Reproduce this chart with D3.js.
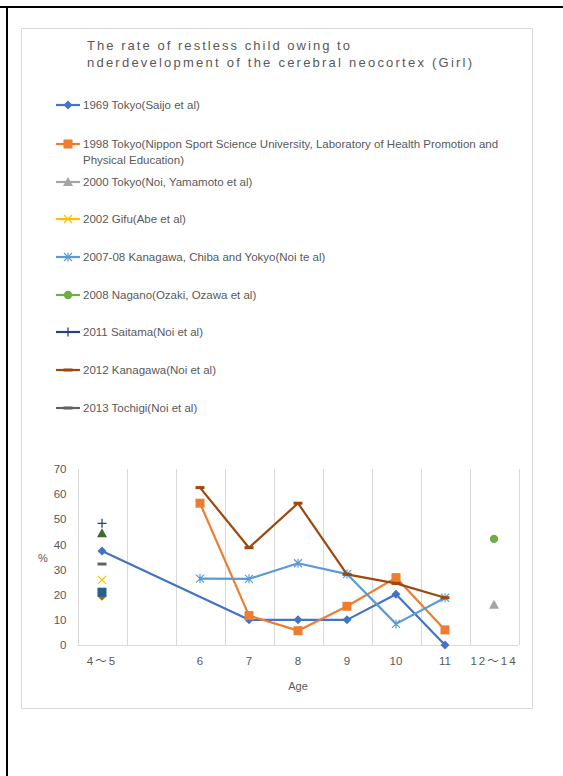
<!DOCTYPE html>
<html><head><meta charset="utf-8">
<script src="https://cdn.jsdelivr.net/npm/d3@7"></script>
<style>
html,body{margin:0;padding:0;background:#fff;}
svg{display:block;}
text{font-family:"Liberation Sans",Arial,"Noto Sans CJK JP",sans-serif;fill:#595959;}
</style></head>
<body>
<script>
// ---- data ----
const categories = ["4〜5", "", "6", "7", "8", "9", "10", "11", "12〜14"];
const yTicks = [0, 10, 20, 30, 40, 50, 60, 70];
const titleLines = ["The rate of restless child owing to", "nderdevelopment of the cerebral neocortex (Girl)"];
const seriesNames = [
  "1969 Tokyo(Saijo et al)",
  "1998 Tokyo(Nippon Sport Science University, Laboratory of Health Promotion and|Physical Education)",
  "2000 Tokyo(Noi, Yamamoto et al)",
  "2002 Gifu(Abe et al)",
  "2007-08 Kanagawa, Chiba and Yokyo(Noi te al)",
  "2008 Nagano(Ozaki, Ozawa et al)",
  "2011 Saitama(Noi et al)",
  "2012 Kanagawa(Noi et al)",
  "2013 Tochigi(Noi et al)",
  "", "", ""
];
const s1969 = [37.4, null, null, 10, 10, 10, 20.2, 0, null];
const s1998 = [null, null, 56.4, 11.7, 5.7, 15.4, 26.8, 6.0, null];
const s2000 = [null, null, null, null, null, null, null, null, 16.0];
const s2002 = [25.9, null, null, null, null, null, null, null, null];
const s2007 = [null, null, 26.4, 26.3, 32.5, 28.2, 8.4, 18.8, null];
const s2008 = [null, null, null, null, null, null, null, null, 42.2];
const s2011 = [48.4, null, null, null, null, null, null, null, null];
const s2012 = [null, null, 62.6, 38.7, 56.4, 28.1, 24.5, 18.8, null];
const s2013 = [32.2, null, null, null, null, null, null, null, null];
const sExtra10 = [19.4, null, null, null, null, null, null, null, null];
const sExtra11 = [21.0, null, null, null, null, null, null, null, null];
const sExtra12 = [44.4, null, null, null, null, null, null, null, null];
const seriesValues = [s1969, s1998, s2000, s2002, s2007, s2008, s2011, s2012, s2013, sExtra10, sExtra11, sExtra12];
const seriesColors = ["#4472C4", "#ED7D31", "#A5A5A5", "#FFC000", "#5B9BD5", "#70AD47", "#264478", "#9E480E", "#636363", "#997300", "#255E91", "#43682B"];
const seriesMarkers = ["diamond", "square", "triangle", "x", "star", "circle", "plus", "dash", "dash", "diamond", "square", "triangle"];
const legendY = [105, 144, 182, 219, 257, 295, 332, 370, 408];

// ---- drawing ----
const W = 563, H = 776;
const svg = d3.select("body").append("svg").attr("width", W).attr("height", H);

// page frame
svg.append("rect").attr("x", 0).attr("y", 6).attr("width", W).attr("height", 2).style("fill", "#000");
svg.append("rect").attr("x", 6).attr("y", 6).attr("width", 2).attr("height", H - 6).style("fill", "#000");
svg.append("text").attr("x", 73).attr("y", -3).style("font-size", "15px").style("font-weight", "bold").style("fill", "#000").text("g");

// chart box
svg.append("rect").attr("x", 21.5).attr("y", 28.5).attr("width", 511).attr("height", 680)
  .style("fill", "#fff").style("stroke", "#d9d9d9").style("stroke-width", 1);

// title
const tl = svg.append("g");
tl.append("text").attr("x", 87).attr("y", 50).style("font-size", "13px")
  .attr("textLength", 263).attr("lengthAdjust", "spacing").text(titleLines[0]);
tl.append("text").attr("x", 87).attr("y", 67).style("font-size", "13px")
  .attr("textLength", 385).attr("lengthAdjust", "spacing").text(titleLines[1]);

// scales
const x = d3.scaleBand().domain(d3.range(categories.length)).range([77.5, 518.5]).padding(0);
const y = d3.scaleLinear().domain([0, 70]).range([645, 469]);

// vertical gridlines
const grid = svg.append("g");
const bounds = d3.range(categories.length + 1).map(i => i < categories.length ? x(i) : x(categories.length - 1) + x.bandwidth());
grid.selectAll("line").data(bounds).join("line")
  .attr("x1", d => Math.round(d) + 0.5).attr("x2", d => Math.round(d) + 0.5)
  .attr("y1", y(70)).attr("y2", y(0))
  .style("stroke", "#d9d9d9").style("stroke-width", 1);
// category axis line
svg.append("line").attr("x1", x(0)).attr("x2", bounds[bounds.length - 1]).attr("y1", y(0) + 0.5).attr("y2", y(0) + 0.5)
  .style("stroke", "#d9d9d9").style("stroke-width", 1);

// y axis labels
const yAxis = d3.axisLeft(y).tickValues(yTicks).tickSize(0).tickPadding(11);
const ya = svg.append("g").attr("transform", `translate(${x(0)},0)`).call(yAxis);
ya.select(".domain").remove();
ya.selectAll("text").style("font-size", "11.5px").style("fill", "#595959").style("font-family", '"Liberation Sans",Arial,sans-serif');

// x axis labels
const xAxis = d3.axisBottom(x).tickFormat(i => categories[i]).tickSize(0).tickPadding(12);
const xa = svg.append("g").attr("transform", `translate(0,${y(0)})`).call(xAxis);
xa.select(".domain").remove();
xa.selectAll("text").style("font-size", "11.5px").style("fill", "#595959")
  .style("font-family", '"Liberation Sans",Arial,"Noto Sans CJK JP",sans-serif')
  .style("letter-spacing", i => categories[i].includes("〜") ? "2px" : null);

// axis titles
svg.append("text").attr("x", 298).attr("y", 690).attr("text-anchor", "middle").style("font-size", "11px").text("Age");
svg.append("text").attr("x", 43).attr("y", 562).attr("text-anchor", "middle").style("font-size", "11px").text("%");

// marker drawing
function drawMarker(g, type, color, cx, cy) {
  if (type === "diamond") {
    g.append("path").attr("d", `M${cx},${cy - 4.5}L${cx + 4.5},${cy}L${cx},${cy + 4.5}L${cx - 4.5},${cy}Z`).style("fill", color);
  } else if (type === "square") {
    g.append("rect").attr("x", cx - 4.5).attr("y", cy - 4.5).attr("width", 9).attr("height", 9).style("fill", color);
  } else if (type === "triangle") {
    g.append("path").attr("d", `M${cx},${cy - 5}L${cx + 5},${cy + 4}L${cx - 5},${cy + 4}Z`).style("fill", color);
  } else if (type === "circle") {
    g.append("circle").attr("cx", cx).attr("cy", cy).attr("r", 4.2).style("fill", color);
  } else if (type === "x") {
    g.append("path").attr("d", `M${cx - 4},${cy - 4}L${cx + 4},${cy + 4}M${cx + 4},${cy - 4}L${cx - 4},${cy + 4}`)
      .style("stroke", color).style("stroke-width", 1.3).style("fill", "none");
  } else if (type === "plus") {
    g.append("path").attr("d", `M${cx - 4.5},${cy}L${cx + 4.5},${cy}M${cx},${cy - 4.5}L${cx},${cy + 4.5}`)
      .style("stroke", color).style("stroke-width", 1.3).style("fill", "none");
  } else if (type === "star") {
    g.append("path").attr("d", `M${cx - 4},${cy - 4}L${cx + 4},${cy + 4}M${cx + 4},${cy - 4}L${cx - 4},${cy + 4}M${cx},${cy - 4.5}L${cx},${cy + 4.5}`)
      .style("stroke", color).style("stroke-width", 1.2).style("fill", "none");
  } else if (type === "dash") {
    g.append("rect").attr("x", cx - 4.5).attr("y", cy - 1.5).attr("width", 9).attr("height", 3).style("fill", color);
  }
}

// series
const line = d3.line().x(d => x(d.i) + x.bandwidth() / 2).y(d => y(d.v));
seriesValues.forEach((vals, k) => {
  const pts = vals.map((v, i) => ({ i, v })).filter(d => d.v !== null);
  const g = svg.append("g");
  if (pts.length > 1) {
    g.append("path").attr("d", line(pts)).style("fill", "none").style("stroke", seriesColors[k])
      .style("stroke-width", 2.2).style("stroke-linejoin", "round").style("stroke-linecap", "round");
  }
  pts.forEach(d => drawMarker(g, seriesMarkers[k], seriesColors[k], x(d.i) + x.bandwidth() / 2, y(d.v)));
});

// legend
const lg = svg.append("g");
seriesNames.slice(0, legendY.length).forEach((name, k) => {
  const ly = legendY[k];
  lg.append("line").attr("x1", 56).attr("x2", 80).attr("y1", ly).attr("y2", ly)
    .style("stroke", seriesColors[k]).style("stroke-width", 2.2);
  drawMarker(lg, seriesMarkers[k], seriesColors[k], 68, ly);
  const parts = name.split("|");
  parts.forEach((p, j) => {
    lg.append("text").attr("x", 83).attr("y", ly + 4 + j * 16).style("font-size", "11.5px").text(p);
  });
});
</script>
</body></html>
